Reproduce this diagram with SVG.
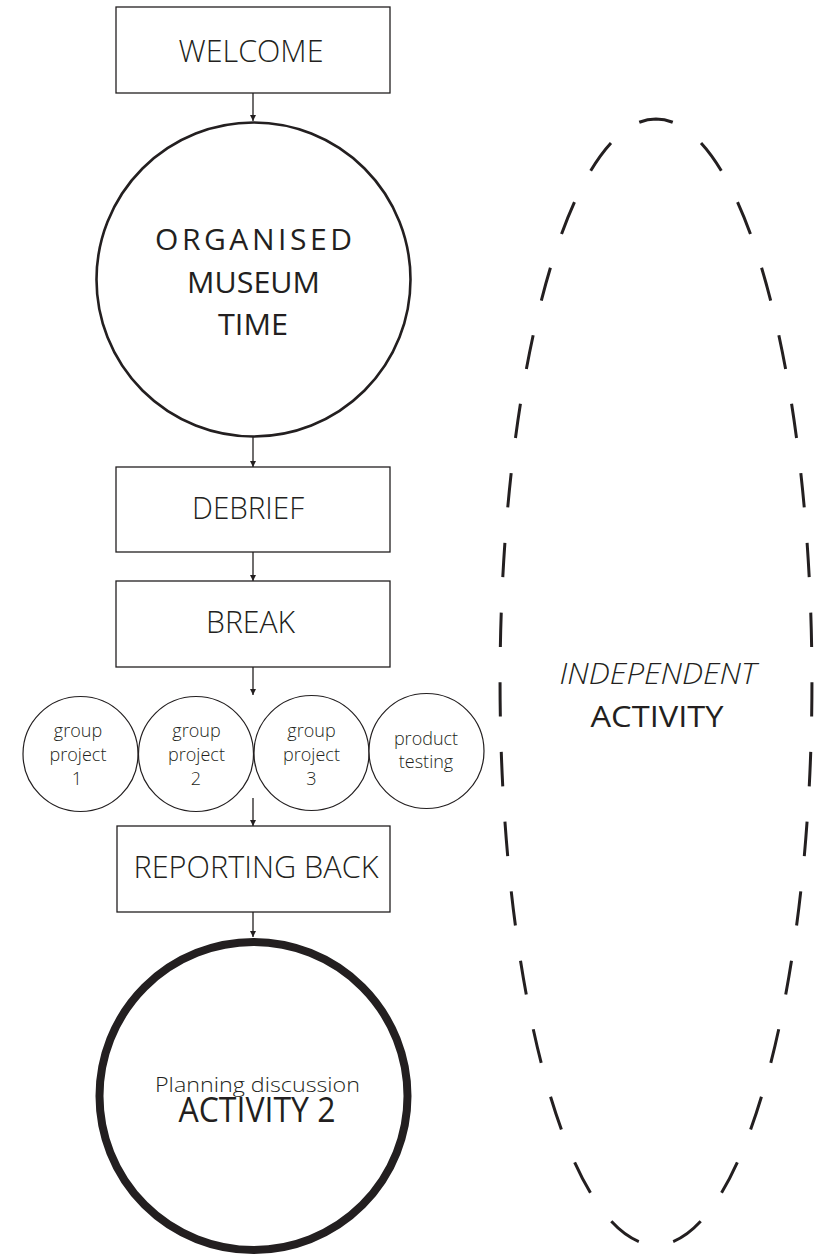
<svg xmlns="http://www.w3.org/2000/svg" width="817" height="1255" viewBox="0 0 817 1255">
<style>
.box{fill:#fff;stroke:#231f20;stroke-width:1.3}
.t{font-family:"Open Sans","Noto Sans",sans-serif;fill:#231f20;text-anchor:middle}
.l{font-weight:300}
.r{font-weight:400}
.sc{fill:#fff;stroke:#231f20;stroke-width:1.2}
.conn{stroke:#231f20;stroke-width:1.3;fill:none;marker-end:url(#ah)}
</style>
<defs>
<marker id="ah" viewBox="0 0 10 10" refX="10" refY="5" markerWidth="6" markerHeight="6" markerUnits="userSpaceOnUse" orient="auto">
<path d="M0,0 L10,5 L0,10 z" fill="#231f20"/>
</marker>
</defs>
<rect width="817" height="1255" fill="#fff"/>
<g id="connectors">
<line class="conn" x1="253" y1="93" x2="253" y2="121"/>
<line class="conn" x1="253" y1="437" x2="253" y2="467"/>
<line class="conn" x1="253" y1="552" x2="253" y2="581"/>
<line class="conn" x1="253" y1="667" x2="253" y2="695"/>
<line class="conn" x1="253" y1="798" x2="253" y2="826"/>
<line class="conn" x1="253" y1="912" x2="253" y2="937"/>
</g>
<g id="welcome">
<rect class="box" x="116" y="7" width="274" height="86"/>
<text class="t l" x="251" y="62" font-size="32" textLength="145" lengthAdjust="spacingAndGlyphs">WELCOME</text>
</g>
<g id="organised">
<circle cx="253.5" cy="279.5" r="157" fill="#fff" stroke="#231f20" stroke-width="2.6"/>
<text class="t r" x="253.5" y="250" font-size="30" textLength="197">ORGANISED</text>
<text class="t r" x="253.5" y="293" font-size="30" textLength="133" lengthAdjust="spacingAndGlyphs">MUSEUM</text>
<text class="t r" x="253" y="335" font-size="30" textLength="70" lengthAdjust="spacingAndGlyphs">TIME</text>
</g>
<g id="debrief">
<rect class="box" x="116" y="467" width="274" height="85"/>
<text class="t l" x="248" y="519" font-size="32" textLength="112" lengthAdjust="spacingAndGlyphs">DEBRIEF</text>
</g>
<g id="break">
<rect class="box" x="116" y="581" width="274" height="86"/>
<text class="t l" x="250.5" y="633" font-size="32" textLength="89" lengthAdjust="spacingAndGlyphs">BREAK</text>
</g>
<g id="gp1">
<circle class="sc" cx="80.5" cy="754" r="57.5"/>
<text class="t l" font-size="18"><tspan x="78" y="737">group</tspan><tspan x="78" y="761">project</tspan><tspan x="77" y="785">1</tspan></text>
</g>
<g id="gp2">
<circle class="sc" cx="196" cy="754" r="57.5"/>
<text class="t l" font-size="18"><tspan x="196.5" y="737">group</tspan><tspan x="196.5" y="761">project</tspan><tspan x="196" y="785">2</tspan></text>
</g>
<g id="gp3">
<circle class="sc" cx="311.5" cy="753" r="57.5"/>
<text class="t l" font-size="18"><tspan x="311.5" y="737">group</tspan><tspan x="311.5" y="761">project</tspan><tspan x="311.5" y="785">3</tspan></text>
</g>
<g id="testing">
<circle class="sc" cx="426.5" cy="751" r="57.5"/>
<text class="t l" font-size="18"><tspan x="426" y="745">product</tspan><tspan x="426" y="768">testing</tspan></text>
</g>
<g id="reporting">
<rect class="box" x="117" y="826" width="273" height="86"/>
<text class="t l" x="256" y="878" font-size="32" textLength="245" lengthAdjust="spacingAndGlyphs">REPORTING BACK</text>
</g>
<g id="activity2">
<circle cx="253.5" cy="1096" r="154" fill="#fff" stroke="#231f20" stroke-width="8"/>
<text class="t l" x="257.5" y="1092" font-size="21" textLength="205" lengthAdjust="spacingAndGlyphs">Planning discussion</text>
<text class="t r" x="257" y="1122" font-size="35" textLength="157" lengthAdjust="spacingAndGlyphs">ACTIVITY 2</text>
</g>
<g id="independent">
<path d="M656,119 A156,563 0 0 1 656,1245 A156,563 0 0 1 656,119" fill="none" stroke="#231f20" stroke-width="3" pathLength="2450" stroke-dasharray="34.5 35.5" stroke-dashoffset="17.25"/>
<text class="t l" x="658" y="684" font-size="30" font-style="italic" textLength="197" lengthAdjust="spacingAndGlyphs">INDEPENDENT</text>
<text class="t r" x="657" y="727" font-size="30" textLength="133" lengthAdjust="spacingAndGlyphs">ACTIVITY</text>
</g>
</svg>
